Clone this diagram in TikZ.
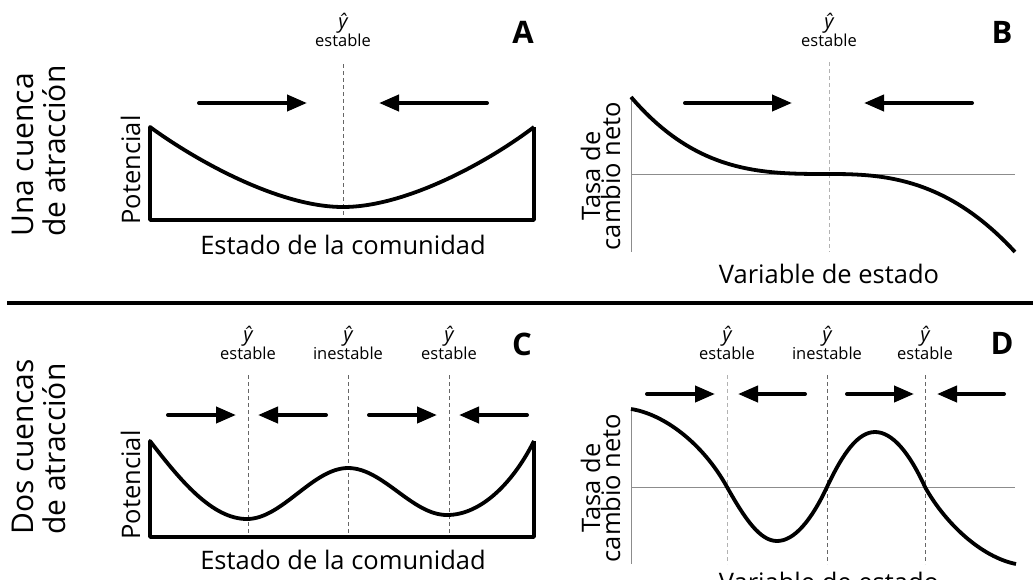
\documentclass[tikz,border=0pt]{standalone}
\usepackage{fontspec}
\setmainfont{Open Sans}
\usetikzlibrary{arrows.meta}
\newcommand{\yhat}{{\fontsize{20}{20}\selectfont\itshape ŷ}}
\begin{document}
\begin{tikzpicture}[x=1pt,y=-1pt,
  lbl/.style={font=\fontsize{25.5}{30}\selectfont, inner sep=0pt, anchor=base},
  ylab/.style={lbl, rotate=90},
  side/.style={font=\fontsize{30}{34}\selectfont, inner sep=0pt, rotate=90, anchor=base west},
  letter/.style={font=\fontsize{31}{36}\selectfont\bfseries, inner sep=0pt, anchor=base},
  eqlbl/.style={font=\fontsize{16.5}{18}\selectfont, align=center, inner sep=0pt, anchor=south},
  flow/.style={line width=4pt, line cap=round, -{Triangle[length=20pt,width=16pt]}},
  heavy/.style={line width=3.8pt, line join=round},
  eqline/.style={dash pattern=on 4pt off 3pt, line width=0.9pt, draw=black!60},
  eqlight/.style={eqline, draw=black!30},
  axis/.style={line width=0.9pt, draw=black!45},
  sep/.style={line width=4pt},
]
\clip (0,0) rectangle (1033,579);

% ---------- side labels ----------
\node[side] (s1a) at (33,237) {Una cuenca};
\node[side] (s1b) at (65,237) {de atracción};
\node[side] (s2a) at (33,535) {Dos cuencas};
\node[side] (s2b) at (65,535) {de atracción};

% ---------- separator ----------
\coordinate (sepL) at (7,303);
\coordinate (sepR) at (1033,303);
\draw[sep] (sepL) -- (sepR);

% ---------- panel A ----------
\node[letter] (A) at (523,43) {A};
\node[eqlbl] (eA) at (343,47) {\yhat\\estable};
\coordinate (dAt) at (343,64); \coordinate (dAb) at (343,220);
\draw[eqline] (dAt) -- (dAb);
\draw[heavy] (534,127) -- (534,220) -- (150,220) -- (150,127)
  .. controls (198,162) and (280,207) .. (343,207)
  .. controls (406,207) and (488,162) .. (534,127);
\coordinate (a1s) at (199,103); \coordinate (a1e) at (307,103);
\coordinate (a2s) at (487,103); \coordinate (a2e) at (379,103);
\draw[flow] (a1s) -- (a1e);
\draw[flow] (a2s) -- (a2e);
\node[ylab] (potA) at (140,170) {Potencial};
\node[lbl] (xA) at (343,254) {Estado de la comunidad};

% ---------- panel B ----------
\node[letter] (B) at (1002,43) {B};
\node[eqlbl] (eB) at (829,47) {\yhat\\estable};
\coordinate (dBt) at (829,62); \coordinate (dBb) at (829,252);
\draw[eqlight] (dBt) -- (dBb);
\coordinate (oB) at (631,174); \coordinate (tB) at (631,97);
\coordinate (bB) at (631,252); \coordinate (rB) at (1015,174);
\draw[axis] (tB) -- (bB);
\draw[axis] (oB) -- (rB);
\draw[heavy] plot[domain=-1:1, samples=80]
  ({829 + (\x<0 ? 198 : 186)*\x},
   {174 + (\x<0 ? 77*\x*\x*\x : 78*exp(2.6*ln(abs(\x)+0.00001)))});
\coordinate (b1s) at (685,103); \coordinate (b1e) at (792,103);
\coordinate (b2s) at (972,103); \coordinate (b2e) at (864,103);
\draw[flow] (b1s) -- (b1e);
\draw[flow] (b2s) -- (b2e);
\node[ylab] (tasaB) at (600,176) {Tasa de};
\node[ylab] (cambB) at (620,176) {cambio neto};
\node[lbl] (xB) at (829,283) {Variable de estado};

% ---------- panel C ----------
\node[letter] (C) at (522,355) {C};
\foreach \px/\word/\nm in {248/estable/c1, 348/inestable/c2, 449/estable/c3}{
  \node[eqlbl] (e\nm) at (\px,360) {\yhat\\\word};
  \coordinate (d\nm t) at (\px,375); \coordinate (d\nm b) at (\px,537);
  \draw[eqline] (d\nm t) -- (d\nm b);
}
\draw[heavy] (534,441) -- (534,537) -- (150,537) -- (150,441)
  .. controls (180,480) and (212,519) .. (247,519)
  .. controls (282,519) and (313,468) .. (348,468)
  .. controls (383,468) and (412,515) .. (447,515)
  .. controls (482,515) and (514,481) .. (534,441);
\coordinate (c1s) at (168,415); \coordinate (c1e) at (236,415);
\coordinate (c2s) at (326,415); \coordinate (c2e) at (258,415);
\coordinate (c3s) at (369,415); \coordinate (c3e) at (437,415);
\coordinate (c4s) at (527,415); \coordinate (c4e) at (459,415);
\draw[flow] (c1s) -- (c1e);
\draw[flow] (c2s) -- (c2e);
\draw[flow] (c3s) -- (c3e);
\draw[flow] (c4s) -- (c4e);
\node[ylab] (potC) at (140,485) {Potencial};
\node[lbl] (xC) at (343,569) {Estado de la comunidad};

% ---------- panel D ----------
\node[letter] (D) at (1002,354) {D};
\foreach \px/\word/\nm/\sty in {727/estable/d1/eqlight, 827/inestable/d2/eqline, 925/estable/d3/eqline}{
  \node[eqlbl] (e\nm) at (\px,360) {\yhat\\\word};
  \coordinate (d\nm t) at (\px,375); \coordinate (d\nm b) at (\px,564);
  \draw[\sty] (d\nm t) -- (d\nm b);
}
\coordinate (oD) at (631,487); \coordinate (tD) at (631,409);
\coordinate (bD) at (631,564); \coordinate (rD) at (1015,487);
\draw[axis] (tD) -- (bD);
\draw[axis] (oD) -- (rD);
\draw[heavy] (631,409)
  .. controls (663,414) and (702,442) .. (727,487)
  .. controls (745,519) and (760,541) .. (777,541)
  .. controls (794,541) and (811,521) .. (827,487)
  .. controls (843,453) and (858,432) .. (875,432)
  .. controls (892,432) and (909,452) .. (925,487)
  .. controls (945,523) and (981,557) .. (1016,564);
\coordinate (e1s) at (647,394); \coordinate (e1e) at (715,394);
\coordinate (e2s) at (805,394); \coordinate (e2e) at (738,394);
\coordinate (e3s) at (847,394); \coordinate (e3e) at (914,394);
\coordinate (e4s) at (1004,394); \coordinate (e4e) at (937,394);
\draw[flow] (e1s) -- (e1e);
\draw[flow] (e2s) -- (e2e);
\draw[flow] (e3s) -- (e3e);
\draw[flow] (e4s) -- (e4e);
\node[ylab] (tasaD) at (600,488) {Tasa de};
\node[ylab] (cambD) at (620,488) {cambio neto};
\node[lbl] (xD) at (829,591) {Variable de estado};
\end{tikzpicture}
\end{document}
